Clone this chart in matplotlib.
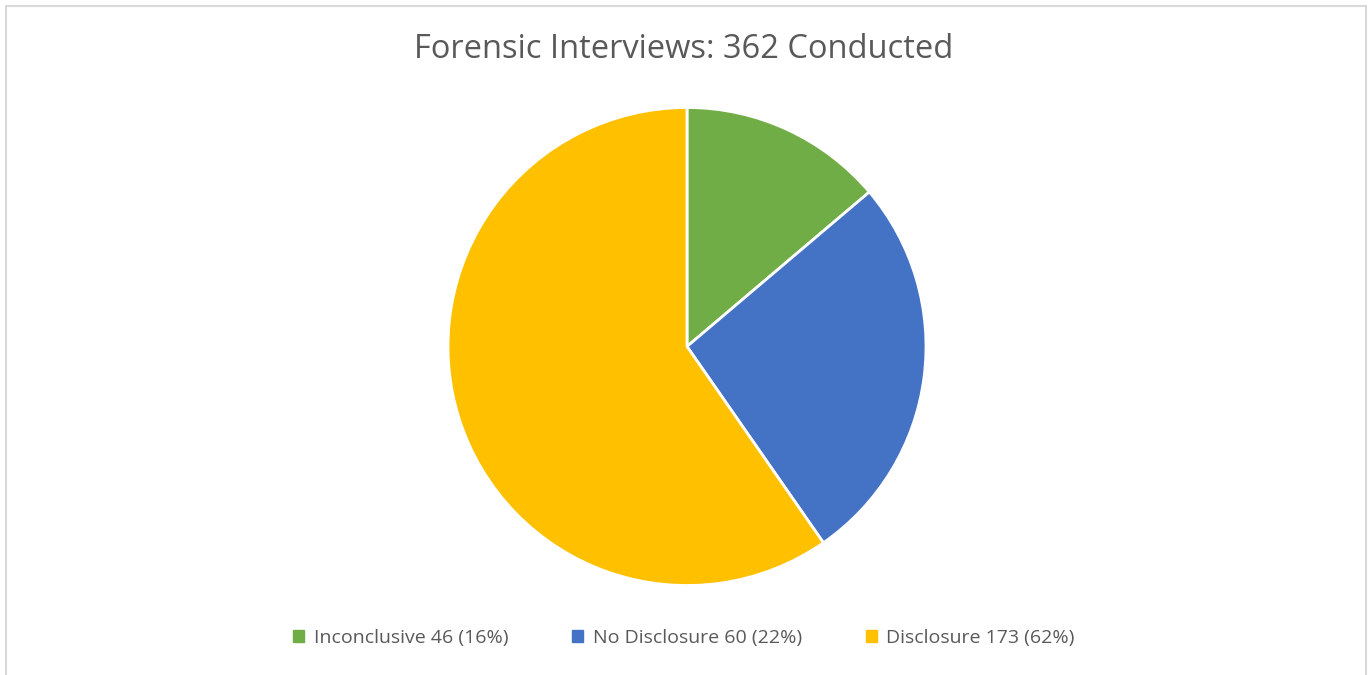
import matplotlib.pyplot as plt
import matplotlib.patches as mpatches

# Data
# slice sizes as drawn in the picture (they sum to the 362 in the title)
slice_values = [50, 96, 216]
# legend text exactly as printed on the chart
labels = ["Inconclusive", "No Disclosure", "Disclosure"]
legend_counts = [46, 60, 173]
pct_labels = ["16%", "22%", "62%"]
colors = ["#70AD47", "#4472C4", "#FFC000"]

plt.rcParams["font.family"] = ["Open Sans", "DejaVu Sans"]

fig = plt.figure(figsize=(13.68, 6.75), dpi=100)

# light gray chart border
fig.patches.append(mpatches.Rectangle((6 / 1368, -0.01), 1360 / 1368, 1 - 6 / 675 + 0.01,
                                      transform=fig.transFigure, fill=False,
                                      edgecolor="#D9D9D9", linewidth=1.5))

ax = fig.add_axes([(687 - 239) / 1368, (675 - 585.5) / 675, 478 / 1368, 478 / 675])
ax.pie(slice_values, colors=colors, startangle=90, counterclock=False,
       wedgeprops=dict(edgecolor="white", linewidth=2))
ax.set_xlim(-1, 1)
ax.set_ylim(-1, 1)
ax.set_aspect("equal")

fig.text(0.5, 1 - 50 / 675, "Forensic Interviews: 362 Conducted", ha="center", va="center",
         fontsize=23.5, color="#595959")

handles = [mpatches.Patch(color=c, label=f"{l} {n} ({p})")
           for l, n, p, c in zip(labels, legend_counts, pct_labels, colors)]
fig.legend(handles=handles, loc="center", bbox_to_anchor=(0.5, 1 - 638 / 675), ncol=3,
           frameon=False, fontsize=14, handlelength=0.55, handleheight=0.55,
           handletextpad=0.5, columnspacing=3.3, labelcolor="#595959")

plt.savefig("out.png", dpi=100)
